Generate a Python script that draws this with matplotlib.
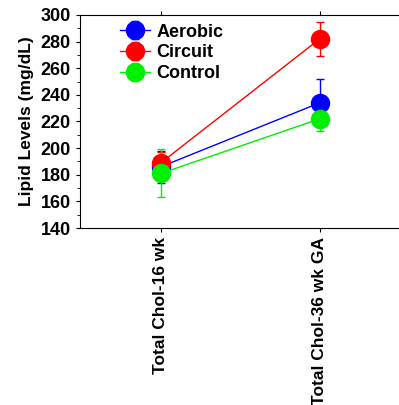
import matplotlib.pyplot as plt
from matplotlib.ticker import MultipleLocator

plt.rcParams['font.family'] = ['Liberation Sans', 'DejaVu Sans']
plt.rcParams['font.weight'] = 'bold'

categories = ["Total Chol-16 wk", "Total Chol-36 wk GA"]
groups = ["Aerobic", "Circuit", "Control"]
colors = ["#0000ff", "#ff0000", "#00ee00"]
means = [[186, 234], [189, 282], [181, 222]]
errs = [[12, 18], [8, 12.5], [18, 9]]

fig = plt.figure(figsize=(3.99, 4.05), dpi=100)
ax = fig.add_axes([0.2005, 0.437, 0.7995, 0.526])

x = range(len(categories))
for g, c, m, e in zip(groups, colors, means, errs):
    ax.errorbar(x, m, yerr=e, color=c, marker='o', markersize=13, lw=1,
                elinewidth=1, capsize=3, label=g)

ax.set_xlim(-0.51, 1.5)
ax.set_ylim(140, 300)
ax.yaxis.set_major_locator(MultipleLocator(20))
ax.yaxis.set_minor_locator(MultipleLocator(10))
ax.set_xticks(list(x))
ax.set_xticklabels(categories, rotation=90, fontsize=12.5, fontweight='bold')
ax.tick_params(axis='x', top=True, direction='out', length=3)
ax.tick_params(axis='y', labelsize=13, direction='out', length=3)
ax.tick_params(axis='y', which='minor', length=2)
for lab in ax.get_yticklabels():
    lab.set_fontweight('bold')
ax.spines['right'].set_visible(False)
ax.set_ylabel("Lipid Levels (mg/dL)", fontsize=12.5, fontweight='bold', labelpad=5)

leg = ax.legend(loc='upper left', bbox_to_anchor=(0.09, 1.01), frameon=False,
                prop={'weight': 'bold', 'size': 13}, handlelength=1.7,
                handletextpad=0.35, labelspacing=0.2, borderaxespad=0.2)

fig.savefig("out.png", dpi=100)
